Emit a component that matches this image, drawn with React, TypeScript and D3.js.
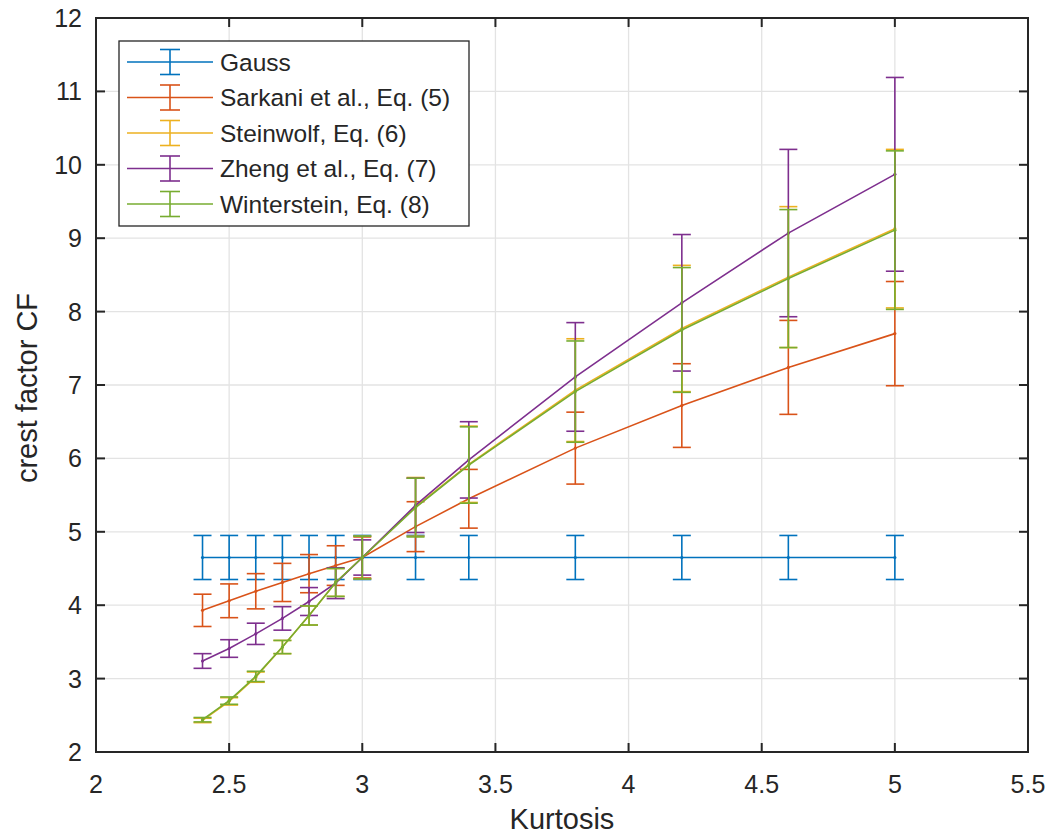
import React from "react";
import * as d3 from "d3";

const kurtosis = [2.4, 2.5, 2.6, 2.7, 2.8, 2.9, 3.0, 3.2, 3.4, 3.8, 4.2, 4.6, 5.0];

const gaussMean = [4.65, 4.65, 4.65, 4.65, 4.65, 4.65, 4.65, 4.65, 4.65, 4.65, 4.65, 4.65, 4.65];
const gaussErr = [0.3, 0.3, 0.3, 0.3, 0.3, 0.3, 0.3, 0.3, 0.3, 0.3, 0.3, 0.3, 0.3];

const sarkaniMean = [3.93, 4.06, 4.19, 4.31, 4.43, 4.54, 4.65, 5.07, 5.45, 6.14, 6.72, 7.24, 7.70];
const sarkaniErr = [0.22, 0.23, 0.24, 0.26, 0.26, 0.27, 0.28, 0.34, 0.4, 0.49, 0.57, 0.64, 0.71];

const steinwolfMean = [2.43, 2.69, 3.02, 3.43, 3.86, 4.31, 4.65, 5.34, 5.92, 6.93, 7.77, 8.47, 9.13];
const steinwolfErr = [0.03, 0.05, 0.07, 0.09, 0.13, 0.19, 0.29, 0.4, 0.52, 0.7, 0.86, 0.96, 1.08];

const zhengMean = [3.24, 3.41, 3.61, 3.82, 4.05, 4.3, 4.65, 5.36, 5.98, 7.11, 8.12, 9.07, 9.87];
const zhengErr = [0.1, 0.12, 0.145, 0.16, 0.19, 0.21, 0.24, 0.37, 0.52, 0.74, 0.93, 1.14, 1.32];

const wintersteinMean = [2.44, 2.7, 3.03, 3.43, 3.86, 4.31, 4.65, 5.33, 5.91, 6.91, 7.75, 8.45, 9.11];
const wintersteinErr = [0.03, 0.05, 0.07, 0.09, 0.13, 0.19, 0.29, 0.4, 0.52, 0.69, 0.85, 0.94, 1.08];

const seriesNames = [
  "Gauss",
  "Sarkani et al., Eq. (5)",
  "Steinwolf, Eq. (6)",
  "Zheng et al., Eq. (7)",
  "Winterstein, Eq. (8)",
];
const seriesColors = ["#0072BD", "#D95319", "#EDB120", "#7E2F8E", "#77AC30"];

const xTicks = [2, 2.5, 3, 3.5, 4, 4.5, 5, 5.5];
const yTicks = [2, 3, 4, 5, 6, 7, 8, 9, 10, 11, 12];

const W = 1049;
const H = 836;
const M = { left: 96, right: 1028, top: 18, bottom: 752 };
const FONT = "'Liberation Sans', Arial, Helvetica, sans-serif";
const TXT = "#262626";

export default function App() {
  const x = d3.scaleLinear().domain([2, 5.5]).range([M.left, M.right]);
  const y = d3.scaleLinear().domain([2, 12]).range([M.bottom, M.top]);
  const line = d3
    .line<[number, number]>()
    .x((d) => x(d[0]))
    .y((d) => y(d[1]));

  const series = [
    { mean: gaussMean, err: gaussErr },
    { mean: sarkaniMean, err: sarkaniErr },
    { mean: steinwolfMean, err: steinwolfErr },
    { mean: zhengMean, err: zhengErr },
    { mean: wintersteinMean, err: wintersteinErr },
  ];
  const cap = 9;
  const tickLen = 9;

  return (
    <svg
      width={W}
      height={H}
      style={{ position: "absolute", left: 0, top: 0, background: "#fff" }}
      fontFamily={FONT}
    >
      <rect x={0} y={0} width={W} height={H} fill="#fff" />
      {/* grid */}
      <g stroke="#e3e3e3" strokeWidth={1.3}>
        {xTicks.slice(1, -1).map((t) => (
          <line key={"gx" + t} x1={x(t)} x2={x(t)} y1={M.top} y2={M.bottom} />
        ))}
        {yTicks.slice(1, -1).map((t) => (
          <line key={"gy" + t} x1={M.left} x2={M.right} y1={y(t)} y2={y(t)} />
        ))}
      </g>
      {/* series */}
      {series.map((s, si) => {
        const pts: [number, number][] = kurtosis.map((k, i) => [k, s.mean[i]]);
        const c = seriesColors[si];
        return (
          <g key={"s" + si} stroke={c} fill="none" strokeWidth={1.6}>
            <path d={line(pts) || ""} />
            {kurtosis.map((k, i) => {
              const cx = x(k);
              const yt = y(s.mean[i] + s.err[i]);
              const yb = y(s.mean[i] - s.err[i]);
              return (
                <g key={i}>
                  <line x1={cx} x2={cx} y1={yt} y2={yb} />
                  <line x1={cx - cap} x2={cx + cap} y1={yt} y2={yt} />
                  <line x1={cx - cap} x2={cx + cap} y1={yb} y2={yb} />
                  <circle cx={cx} cy={y(s.mean[i])} r={1.6} fill={c} stroke="none" />
                </g>
              );
            })}
          </g>
        );
      })}
      {/* axes box */}
      <g stroke={TXT} strokeWidth={2}>
        <rect
          x={M.left}
          y={M.top}
          width={M.right - M.left}
          height={M.bottom - M.top}
          fill="none"
        />
        {xTicks.slice(1, -1).map((t) => (
          <g key={"tx" + t}>
            <line x1={x(t)} x2={x(t)} y1={M.bottom} y2={M.bottom - tickLen} />
            <line x1={x(t)} x2={x(t)} y1={M.top} y2={M.top + tickLen} />
          </g>
        ))}
        {yTicks.slice(1, -1).map((t) => (
          <g key={"ty" + t}>
            <line x1={M.left} x2={M.left + tickLen} y1={y(t)} y2={y(t)} />
            <line x1={M.right} x2={M.right - tickLen} y1={y(t)} y2={y(t)} />
          </g>
        ))}
      </g>
      {/* tick labels */}
      <g fill={TXT} fontSize={25}>
        {xTicks.map((t) => (
          <text key={"lx" + t} x={x(t)} y={793} textAnchor="middle">
            {t}
          </text>
        ))}
        {yTicks.map((t) => (
          <text key={"ly" + t} x={M.left - 14} y={y(t)} dy="0.36em" textAnchor="end">
            {t}
          </text>
        ))}
      </g>
      <text
        x={(M.left + M.right) / 2}
        y={829}
        textAnchor="middle"
        fontSize={29}
        fill={TXT}
      >
        Kurtosis
      </text>
      <text
        transform={`translate(37, ${(M.top + M.bottom) / 2 + 3}) rotate(-90)`}
        textAnchor="middle"
        fontSize={29}
        fill={TXT}
      >
        crest factor CF
      </text>
      {/* legend */}
      <g>
        <rect x={119} y={41} width={350} height={185} fill="#fff" stroke={TXT} strokeWidth={1.3} />
        {seriesNames.map((n, i) => {
          const ly = 62 + i * 35.5;
          const c = seriesColors[i];
          return (
            <g key={"lg" + i}>
              <g stroke={c} strokeWidth={1.6}>
                <line x1={127} x2={213} y1={ly} y2={ly} />
                <line x1={170} x2={170} y1={ly - 12.5} y2={ly + 12.5} />
                <line x1={160} x2={180} y1={ly - 12.5} y2={ly - 12.5} />
                <line x1={160} x2={180} y1={ly + 12.5} y2={ly + 12.5} />
              </g>
              <text x={220} y={ly} dy="0.36em" fontSize={24.5} fill={TXT}>
                {n}
              </text>
            </g>
          );
        })}
      </g>
    </svg>
  );
}
